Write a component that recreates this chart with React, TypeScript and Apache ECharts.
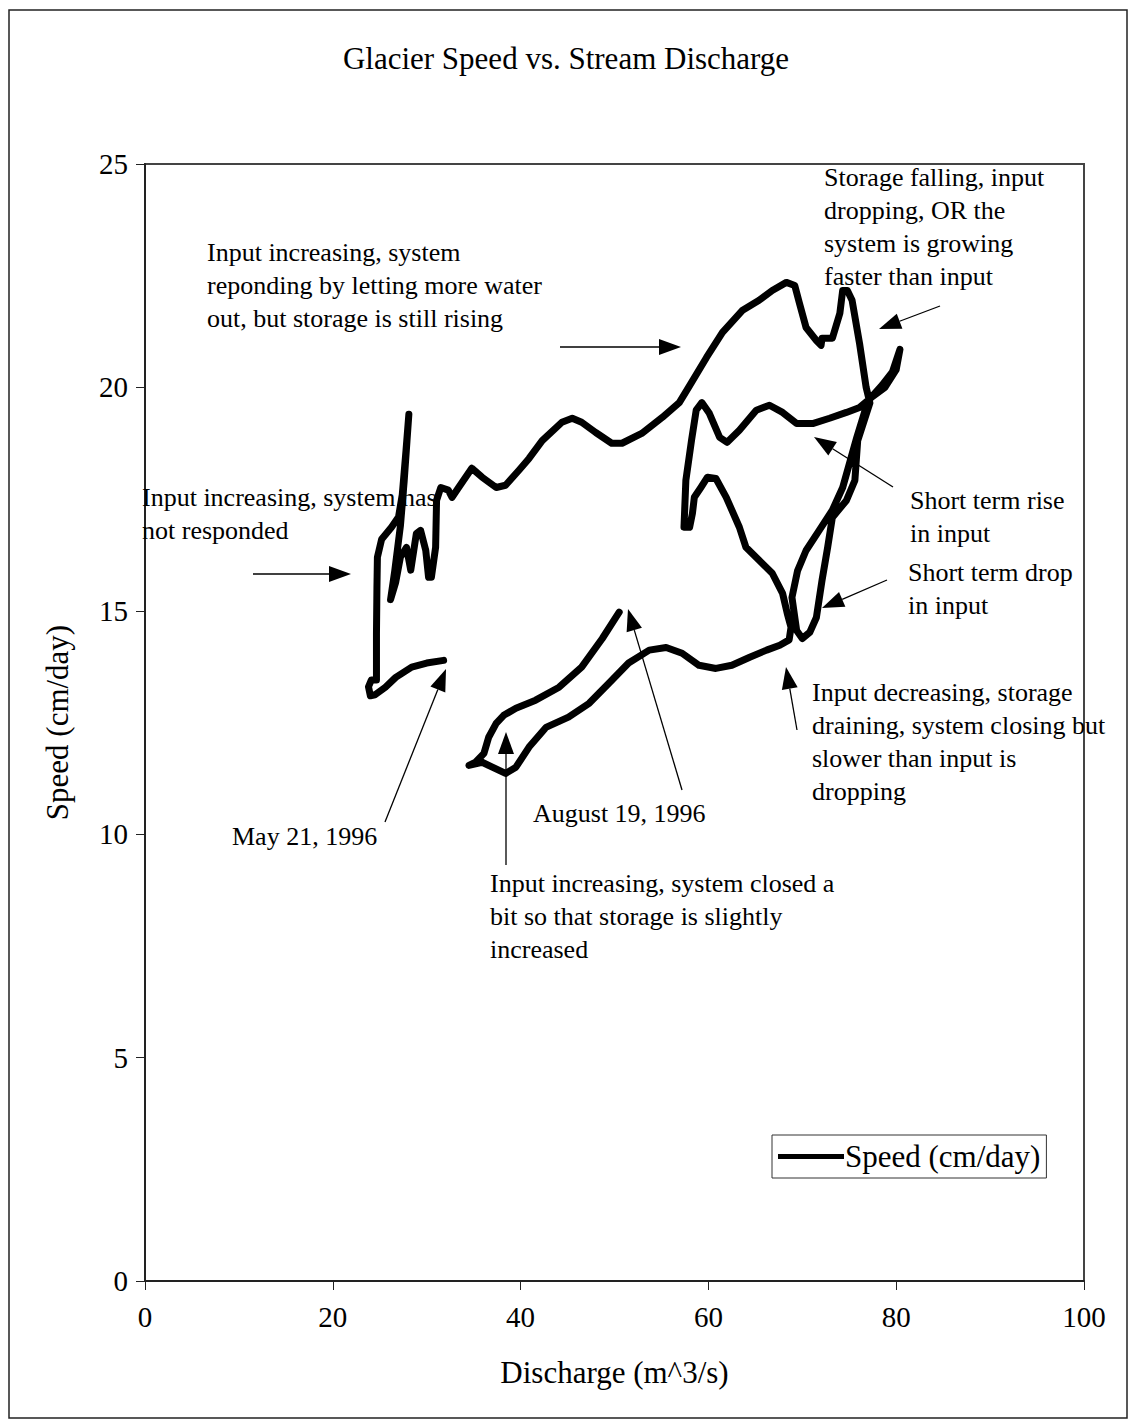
import React, { useEffect, useRef } from "react";
import * as echarts from "echarts";

const FONT = '"Liberation Serif", "Times New Roman", serif';

// [discharge m^3/s, speed cm/day] in time order, May 21 -> August 19, 1996
const maySegment: number[][] = [
  [31.8, 13.89], [30.0, 13.83], [28.4, 13.74], [26.7, 13.51], [25.6, 13.29], [24.5, 13.12],
  [24.0, 13.1], [23.8, 13.3], [24.1, 13.45], [24.65, 13.45],
];
const earlyTangle: number[][] = [
  [24.65, 14.5], [24.7, 15.5], [24.75, 16.2], [25.2, 16.6], [26.25, 16.87], [27.0, 17.1],
  [27.4, 17.6], [27.8, 18.6], [28.1, 19.4], [27.9, 18.8], [27.6, 17.9], [27.2, 16.9],
  [26.6, 15.9], [26.15, 15.25], [26.7, 15.64], [27.2, 16.2], [27.85, 16.42], [28.3, 15.91],
  [28.9, 16.73], [29.35, 16.8], [29.9, 16.35], [30.2, 15.75], [30.5, 15.75], [30.95, 16.42],
  [31.05, 17.47], [31.5, 17.76], [32.3, 17.7],
];
const upperArc: number[][] = [
  [32.7, 17.54], [33.4, 17.76], [34.8, 18.19], [35.9, 17.99], [37.4, 17.76], [38.4, 17.81],
  [39.8, 18.14], [40.9, 18.41], [42.3, 18.81], [44.4, 19.22], [45.5, 19.31], [46.5, 19.22],
  [48.0, 18.99], [49.7, 18.75], [50.8, 18.75], [52.9, 18.97], [55.1, 19.33], [56.9, 19.66],
  [58.0, 20.04], [59.8, 20.67], [61.5, 21.23], [63.6, 21.72], [65.4, 21.95], [66.8, 22.17],
  [68.3, 22.35], [69.2, 22.28], [69.7, 21.88], [70.4, 21.34], [71.5, 21.05], [72.0, 20.94],
  [72.1, 21.1], [73.2, 21.1], [74.0, 21.66], [74.3, 22.17], [74.8, 22.17], [75.3, 21.95],
  [76.1, 20.98], [76.8, 20.0], [77.2, 19.65],
];
const rightLoop: number[][] = [
  [75.9, 18.81], [75.6, 17.92], [74.7, 17.47], [73.2, 17.09], [72.7, 16.42], [72.1, 15.68],
  [71.5, 14.85], [70.8, 14.52], [70.0, 14.38], [69.4, 14.56], [68.9, 15.3], [69.5, 15.9],
  [70.4, 16.35], [71.8, 16.8], [73.2, 17.25], [74.3, 17.76], [75.2, 18.43], [75.8, 18.88],
  [77.0, 19.7], [78.5, 20.05], [79.6, 20.35], [80.4, 20.85], [80.0, 20.4], [78.8, 20.0],
  [77.5, 19.8],
];
const middleWave: number[][] = [
  [76.1, 19.55], [74.7, 19.44], [72.9, 19.31], [71.1, 19.19], [69.4, 19.19], [67.9, 19.44],
  [66.5, 19.6], [65.1, 19.49], [63.3, 19.04], [62.0, 18.77], [61.2, 18.88], [60.1, 19.42],
  [59.3, 19.66], [58.7, 19.49], [58.2, 18.81], [57.6, 17.92], [57.4, 16.87], [58.0, 16.87],
  [58.3, 17.18], [58.5, 17.54], [59.2, 17.76], [59.9, 17.99], [60.8, 17.96], [61.9, 17.54],
  [63.3, 16.87], [64.0, 16.42], [65.4, 16.13], [66.8, 15.84], [67.9, 15.39], [68.4, 14.94],
  [68.8, 14.63], [68.6, 14.35],
];
const lowerReturn: number[][] = [
  [67.6, 14.23], [66.2, 14.12], [64.4, 13.96], [62.5, 13.78], [60.8, 13.71], [59.0, 13.78],
  [57.2, 14.05], [55.5, 14.18], [53.7, 14.12], [51.5, 13.83], [49.4, 13.38], [47.3, 12.93],
  [45.1, 12.62], [42.7, 12.39], [40.9, 11.95], [39.5, 11.5], [38.4, 11.36], [35.9, 11.61],
  [34.5, 11.54], [35.2, 11.61], [36.1, 11.81], [36.6, 12.17], [37.4, 12.48], [38.2, 12.66],
  [39.5, 12.82], [41.6, 13.0], [44.1, 13.29], [46.5, 13.74], [48.7, 14.38], [50.5, 14.97],
];

const xTicks = { min: 0, max: 100, interval: 20 };
const yTicks = { min: 0, max: 25, interval: 5 };

const seriesName = "Speed (cm/day)";
const title = "Glacier Speed vs. Stream Discharge";
const xName = "Discharge (m^3/s)";
const yName = "Speed (cm/day)";

// annotations: [left, top, lines]
const notes: [number, number, string[]][] = [
  [207, 236, ["Input increasing, system", "reponding by letting more water", "out, but storage is still rising"]],
  [824, 161, ["Storage falling, input", "dropping, OR the", "system is growing", "faster than input"]],
  [142, 481, ["Input increasing, system has", "not responded"]],
  [910, 484, ["Short term rise", "in input"]],
  [908, 556, ["Short term drop", "in input"]],
  [812, 676, ["Input decreasing, storage", "draining, system closing but", "slower than input is", "dropping"]],
  [232, 820, ["May 21, 1996"]],
  [533, 797, ["August 19, 1996"]],
  [490, 867, ["Input increasing, system closed a", "bit so that storage is slightly", "increased"]],
];
// arrows: tail -> head (pixels)
const arrows: number[][] = [
  [560, 347, 681, 347],
  [940, 306, 879, 329],
  [253, 574, 351, 574],
  [893, 487, 814, 437],
  [887, 580, 822, 608],
  [797, 730, 786, 667],
  [385, 822, 446, 669],
  [682, 790, 628, 609],
  [506, 865, 506, 732],
];

function arrowEls(x1: number, y1: number, x2: number, y2: number) {
  const dx = x2 - x1, dy = y2 - y1;
  const L = Math.hypot(dx, dy);
  const ux = dx / L, uy = dy / L;
  const head = 22, w = 8;
  const bx = x2 - ux * head, by = y2 - uy * head;
  const px = -uy * w, py = ux * w;
  return [
    { type: "line", z: 5, shape: { x1, y1, x2: bx, y2: by }, style: { stroke: "#000", lineWidth: 1.3 } },
    {
      type: "polygon", z: 5,
      shape: { points: [[x2, y2], [bx + px, by + py], [bx - px, by - py]] },
      style: { fill: "#000" },
    },
  ];
}

export default function App() {
  const ref = useRef<HTMLDivElement>(null);
  useEffect(() => {
    document.body.style.margin = "0";
    const chart = echarts.init(ref.current!, null, { renderer: "svg" });
    const data = [...maySegment, ...earlyTangle, ...upperArc, ...rightLoop, ...middleWave, ...lowerReturn];
    const graphics: any[] = [
      {
        type: "rect", z: 0, silent: true,
        shape: { x: 9, y: 10, width: 1118, height: 1408 },
        style: { fill: "none", stroke: "#222", lineWidth: 1.5 },
      },
    ];
    notes.forEach(([x, y, lines]) => {
      graphics.push({
        type: "text", z: 1, x, y,
        style: {
          text: lines.join("\n"), fontFamily: FONT, fontSize: 26, lineHeight: 33,
          fill: "#000", verticalAlign: "top", align: "left",
        },
      });
    });
    arrows.forEach(([a, b, c, d]) => graphics.push(...arrowEls(a, b, c, d)));

    chart.setOption({
      animation: false,
      backgroundColor: "#fff",
      title: {
        text: title, left: "center", top: 38,
        textStyle: { fontFamily: FONT, fontSize: 31, fontWeight: "normal", color: "#000" },
      },
      grid: {
        left: 145, right: 48, top: 164, height: 1117, show: true,
        borderColor: "#444", borderWidth: 2, backgroundColor: "transparent",
      },
      legend: {
        left: 772, top: 1135, icon: "rect", itemWidth: 66, itemHeight: 5, itemGap: 0,
        borderColor: "#333", borderWidth: 1, padding: [6, 6, 6, 6],
        textStyle: { fontFamily: FONT, fontSize: 31, color: "#000", padding: [0, 0, 0, -4] },
        data: [seriesName],
      },
      xAxis: {
        type: "value", ...xTicks,
        name: xName, nameLocation: "middle", nameGap: 76,
        nameTextStyle: { fontFamily: FONT, fontSize: 31, color: "#000" },
        axisLine: { show: true, lineStyle: { color: "#222", width: 2 } },
        axisTick: { show: true, inside: false, length: 9, lineStyle: { color: "#222", width: 1 } },
        axisLabel: { fontFamily: FONT, fontSize: 29, color: "#000", margin: 21 },
        splitLine: { show: false },
      },
      yAxis: {
        type: "value", ...yTicks,
        name: yName, nameLocation: "middle", nameGap: 72, nameRotate: 90,
        nameTextStyle: { fontFamily: FONT, fontSize: 31, color: "#000" },
        axisLine: { show: true, lineStyle: { color: "#222", width: 2 } },
        axisTick: { show: true, inside: false, length: 9, lineStyle: { color: "#222", width: 1 } },
        axisLabel: { fontFamily: FONT, fontSize: 29, color: "#000", margin: 17 },
        splitLine: { show: false },
      },
      series: [
        {
          name: seriesName, type: "line", data, showSymbol: false, symbol: "none",
          z: 3, smooth: false, color: "#000",
          lineStyle: { color: "#000", width: 7, join: "round", cap: "round" },
        },
      ],
      graphic: graphics,
    });
    return () => chart.dispose();
  }, []);
  return <div ref={ref} style={{ width: 1132, height: 1422 }} />;
}
